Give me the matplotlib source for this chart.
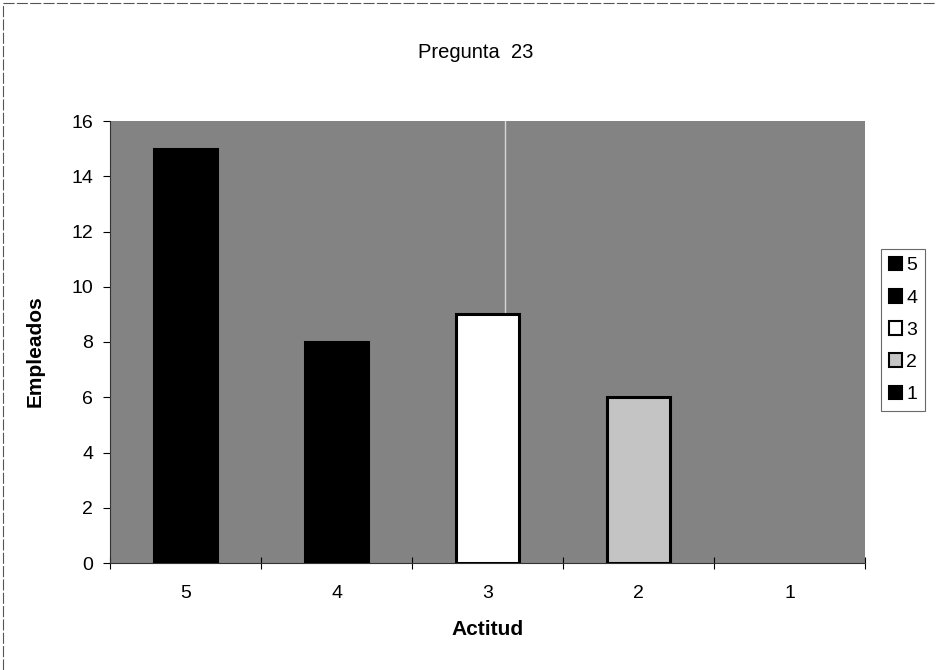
import numpy as np
import matplotlib
matplotlib.use('Agg')
import matplotlib.pyplot as plt
from matplotlib.patches import Patch
from matplotlib.lines import Line2D

#----- data
categorias = ['5', '4', '3', '2', '1']
empleados = [15, 8, 9, 6, 0]
colores = ['#000000', '#000000', '#ffffff', '#c4c4c4', '#000000']
titulo = 'Pregunta  23'

plt.rcParams['font.family'] = ['Liberation Sans', 'DejaVu Sans']

DPI = 100
W, H = 936, 670
fig = plt.figure(figsize=(W / DPI, H / DPI), dpi=DPI)

# chart area border (top and left edges)
fig.lines.append(Line2D([3 / W, 1.0], [1 - 3 / H, 1 - 3 / H], transform=fig.transFigure,
                        color='#555555', linewidth=0.8, linestyle=(0, (10, 2))))
fig.lines.append(Line2D([3 / W, 3 / W], [0.0, 1 - 3 / H], transform=fig.transFigure,
                        color='#555555', linewidth=0.8, linestyle=(0, (10, 2))))

ax = fig.add_axes([110 / W, 1 - 563 / H, 755 / W, 442 / H])
ax.set_facecolor('#838383')

x = np.arange(len(categorias)) + 0.5
anchos_borde = [2.2 if v > 0 else 0 for v in empleados]
ax.bar(x, empleados, width=0.42, color=colores, edgecolor='black', linewidth=anchos_borde, zorder=3)

# light vertical streak above bar 3
ax.axvline(2.615, ymin=empleados[2] / 16, ymax=1, color='#d8d8d8', linewidth=1, zorder=2)

ax.set_xlim(0, len(categorias))
ax.set_ylim(0, 16)

# category boundaries as tick marks, labels in the middle
ax.set_xticks(np.arange(len(categorias) + 1))
ax.set_xticklabels([])
ax.set_xticks(x, minor=True)
ax.set_xticklabels(categorias, minor=True, fontsize=14)
ax.tick_params(axis='x', which='major', direction='inout', length=8, width=0.8)
ax.tick_params(axis='x', which='minor', length=0, pad=16)

ax.set_yticks(np.arange(0, 17, 2))
ax.tick_params(axis='y', direction='out', length=5, width=0.8, labelsize=14, pad=7)

for s in ['top', 'right']:
    ax.spines[s].set_visible(False)
ax.spines['left'].set_color('#333333')
ax.spines['bottom'].set_color('#333333')

ax.set_xlabel('Actitud', fontsize=15, fontweight='bold')
ax.xaxis.set_label_coords(0.5, -0.128)
ax.set_ylabel('Empleados', fontsize=15, fontweight='bold')
ax.yaxis.set_label_coords(-65 / 755, 0.48)

fig.text(476 / W, 1 - 58 / H, titulo, ha='center', va='baseline', fontsize=14.5)

#----- legend
handles = [Patch(facecolor=c, edgecolor='black', linewidth=1.5) for c in colores]
leg = fig.legend(handles, categorias, loc='upper left', bbox_to_anchor=(881 / W, 1 - 249 / H),
                 fontsize=14, frameon=True, fancybox=False, edgecolor='#444444',
                 handlelength=0.7, handleheight=0.7, handletextpad=0.2,
                 labelspacing=0.75, borderpad=0.4, borderaxespad=0)
leg.get_frame().set_linewidth(0.8)

plt.savefig('out.png', dpi=DPI)
